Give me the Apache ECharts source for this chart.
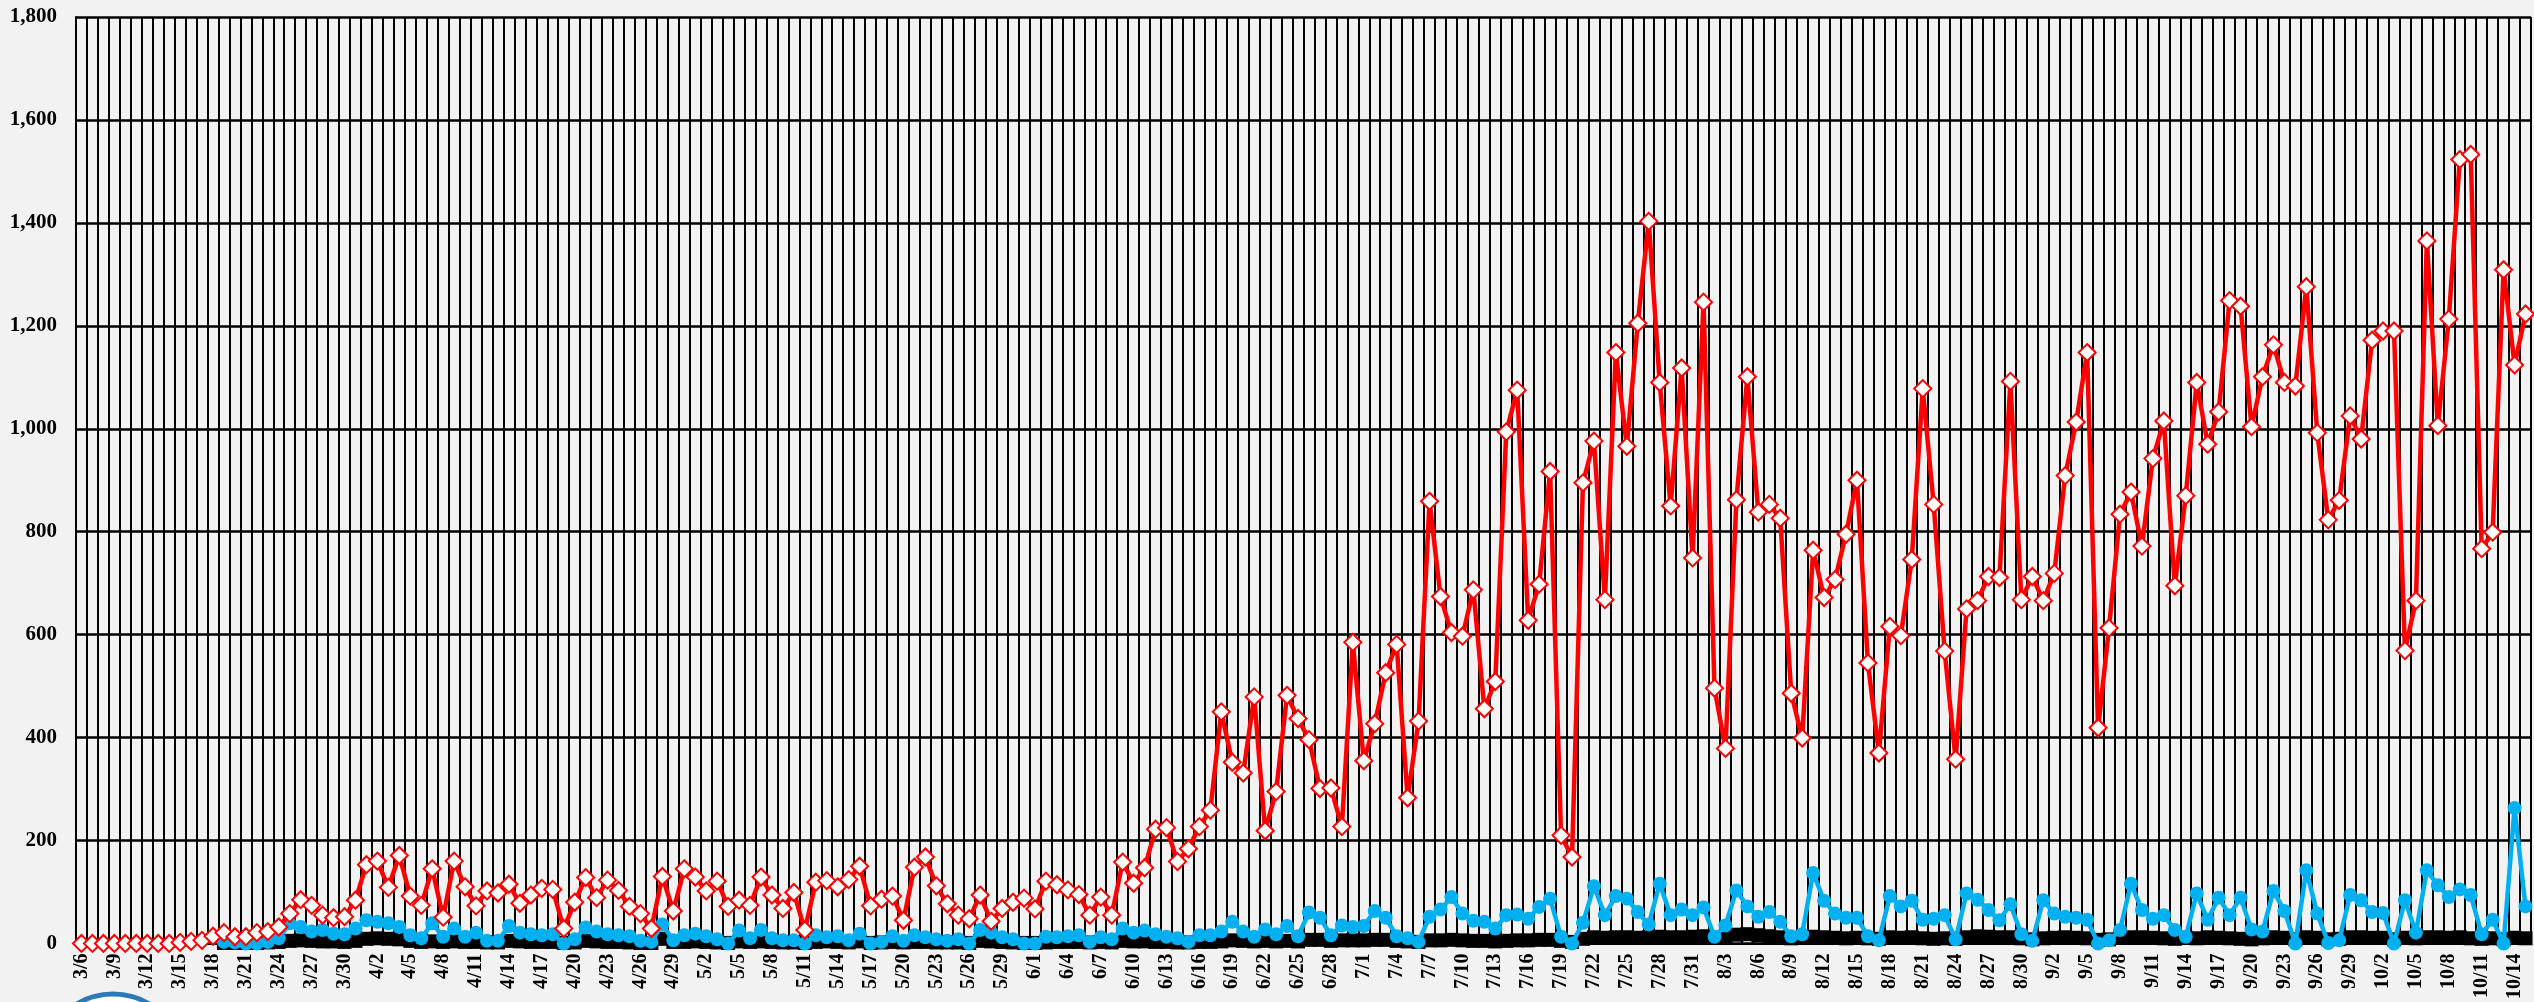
<!DOCTYPE html>
<html>
<head>
<meta charset="utf-8">
<script src="https://cdn.jsdelivr.net/npm/echarts@6/dist/echarts.min.js"></script>
<style>
  html, body { margin: 0; padding: 0; background: #f2f2f2; }
  #chart { width: 2534px; height: 1002px; }
</style>
</head>
<body>
<div id="chart"></div>
<script>
// categories: one per day, 3/6 .. 10/15
var startMonth = 3, startDay = 6, dayCount = 224;
var monthDays = {3: 31, 4: 30, 5: 31, 6: 30, 7: 31, 8: 31, 9: 30, 10: 31};
var dates = [];
(function () {
  var m = startMonth, d = startDay;
  for (var k = 0; k < dayCount; k++) {
    dates.push(m + '/' + d);
    d++;
    if (d > monthDays[m]) { d = 1; m++; }
  }
})();

var yTicks = [0, 200, 400, 600, 800, 1000, 1200, 1400, 1600, 1800];

// red series (diamonds)
var redValues = [
  0, 0, 0, 0, 0, 0, 0, 0, 0, 2, 4, 6, 14,
  21, 13, 13, 21, 23, 32, 58, 85, 74, 55, 50, 52, 84,
  153, 160, 109, 171, 92, 74, 145, 51, 160, 110, 73, 102, 98,
  115, 78, 94, 107, 105, 29, 80, 128, 89, 123, 103, 72, 58,
  29, 130, 63, 145, 129, 102, 121, 72, 84, 74, 129, 94, 68,
  99, 26, 119, 122, 110, 124, 150, 73, 86, 92, 45, 148, 168,
  112, 77, 55, 48, 94, 43, 68, 80, 88, 67, 121, 114, 104,
  95, 55, 90, 55, 158, 117, 147, 222, 225, 159, 184, 227, 259,
  450, 352, 331, 479, 219, 295, 482, 437, 396, 301, 302, 227, 585,
  355, 427, 526, 581, 283, 432, 859, 674, 604, 597, 687, 456, 509,
  994, 1075, 628, 698, 917, 210, 168, 895, 976, 668, 1148, 966, 1205,
  1403, 1090, 850, 1118, 749, 1246, 496, 379, 862, 1101, 838, 853, 826,
  486, 399, 764, 672, 707, 795, 900, 545, 370, 616, 598, 746, 1078,
  853, 568, 358, 650, 666, 713, 711, 1092, 668, 713, 666, 719, 909,
  1013, 1148, 419, 613, 834, 877, 772, 942, 1015, 695, 870, 1090, 970,
  1033, 1249, 1238, 1004, 1101, 1163, 1090, 1083, 1276, 992, 823, 861, 1025,
  980, 1172, 1190, 1190, 569, 666, 1365, 1006, 1213, 1523, 1533, 767, 799,
  1309, 1124, 1223
];

// light blue series (circles), starts 3/19
var blueValues = [
  null, null, null, null, null, null, null, null, null, null, null, null, null,
  3, 2, 0, 0, 3, 10, 39, 32, 23, 26, 19, 18, 29,
  45, 42, 39, 32, 16, 10, 39, 13, 29, 13, 21, 5, 5,
  34, 21, 18, 16, 18, 0, 8, 31, 23, 18, 16, 14, 5,
  3, 37, 6, 16, 19, 14, 8, 0, 25, 10, 26, 10, 6,
  6, 0, 16, 12, 14, 6, 19, 0, 3, 14, 5, 16, 12,
  8, 5, 8, 0, 26, 21, 12, 8, 0, 0, 13, 12, 14,
  16, 3, 12, 8, 29, 21, 25, 18, 13, 10, 3, 16, 16,
  23, 42, 23, 13, 27, 18, 34, 14, 60, 50, 16, 35, 32,
  34, 63, 50, 14, 10, 3, 52, 66, 90, 58, 44, 42, 29,
  55, 56, 48, 71, 87, 13, 0, 40, 111, 55, 92, 87, 61,
  37, 116, 55, 66, 55, 70, 13, 35, 103, 72, 52, 61, 42,
  14, 18, 137, 83, 58, 50, 50, 14, 6, 92, 72, 83, 46,
  48, 55, 8, 97, 85, 65, 45, 76, 18, 5, 84, 58, 52,
  50, 46, 0, 6, 26, 116, 65, 48, 55, 26, 13, 97, 46,
  89, 55, 89, 27, 23, 102, 63, 0, 142, 58, 1, 6, 94,
  84, 61, 59, 0, 84, 21, 142, 113, 90, 105, 94, 18, 46,
  0, 263, 72
];

// black series (squares), starts 3/19
var blackValues = [
  null, null, null, null, null, null, null, null, null, null, null, null, null,
  1, 1, 1, 1, 2, 3, 5, 6, 5, 4, 4, 3, 5,
  9, 10, 9, 8, 5, 3, 4, 3, 4, 3, 3, 2, 2,
  5, 4, 3, 3, 3, 1, 2, 5, 4, 3, 3, 2, 1,
  1, 9, 3, 3, 4, 3, 2, 1, 4, 3, 4, 3, 2,
  2, 1, 3, 4, 3, 2, 4, 1, 2, 3, 2, 3, 3,
  2, 2, 2, 1, 5, 4, 3, 2, 1, 1, 2, 3, 3,
  3, 2, 3, 2, 5, 4, 4, 3, 3, 2, 2, 3, 3,
  4, 6, 5, 4, 5, 4, 5, 4, 7, 7, 5, 6, 6,
  6, 7, 7, 5, 4, 3, 6, 6, 7, 6, 5, 5, 4,
  5, 6, 6, 7, 7, 5, 3, 9, 12, 11, 12, 12, 11,
  12, 13, 12, 12, 13, 14, 11, 13, 17, 18, 16, 14, 12,
  10, 11, 13, 12, 11, 10, 11, 10, 9, 12, 11, 12, 10,
  9, 10, 9, 12, 14, 13, 12, 12, 10, 8, 10, 11, 12,
  11, 10, 7, 8, 11, 12, 12, 11, 10, 9, 11, 10, 12,
  11, 10, 9, 8, 10, 12, 11, 8, 12, 11, 8, 9, 12,
  12, 11, 11, 8, 11, 10, 12, 12, 11, 12, 10, 9, 10,
  8, 11, 10
];

var chart = echarts.init(document.getElementById('chart'));
var option = {
  animation: false,
  backgroundColor: '#f2f2f2',
  grid: { left: 76, right: 3, top: 17, bottom: 55, containLabel: false },
  xAxis: {
    type: 'category',
    data: dates,
    boundaryGap: true,
    axisLine: { show: true, lineStyle: { color: '#000', width: 2 } },
    axisTick: { show: false },
    splitLine: { show: true, interval: 0, lineStyle: { color: '#000', width: 2 } },
    axisLabel: {
      interval: 2,
      rotate: 90,
      margin: 10,
      color: '#000',
      fontFamily: 'Liberation Serif',
      fontWeight: 'bold',
      fontSize: 20
    }
  },
  yAxis: {
    type: 'value',
    min: yTicks[0],
    max: yTicks[yTicks.length - 1],
    interval: 200,
    axisLine: { show: true, lineStyle: { color: '#000', width: 2 } },
    axisTick: { show: false },
    splitLine: { show: true, lineStyle: { color: '#000', width: 2.5 } },
    axisLabel: {
      margin: 19,
      color: '#000',
      fontFamily: 'Liberation Serif',
      fontWeight: 'bold',
      fontSize: 21,
      formatter: function (v) { return v.toLocaleString('en-US'); }
    }
  },
  series: [
    {
      name: 'black',
      type: 'line',
      data: blackValues,
      z: 2,
      showAllSymbol: true,
      symbol: 'rect',
      symbolSize: 14,
      itemStyle: { color: '#000' },
      lineStyle: { color: '#000', width: 7 }
    },
    {
      name: 'blue',
      type: 'line',
      data: blueValues,
      z: 3,
      showAllSymbol: true,
      symbol: 'circle',
      symbolSize: 14,
      itemStyle: { color: '#00b0f0' },
      lineStyle: { color: '#00b0f0', width: 4.5 }
    },
    {
      name: 'red',
      type: 'line',
      data: redValues,
      z: 4,
      showAllSymbol: true,
      symbol: 'diamond',
      symbolSize: 17,
      itemStyle: { color: '#ffffff', borderColor: '#ff0000', borderWidth: 2 },
      lineStyle: { color: '#ff0000', width: 4.5 }
    }
  ],
  graphic: [
    {
      type: 'circle',
      shape: { cx: 113, cy: 1064, r: 70 },
      style: { fill: '#ffffff', stroke: '#2a7ab8', lineWidth: 5 },
      z: 0
    }
  ]
};
chart.setOption(option);
</script>
</body>
</html>
